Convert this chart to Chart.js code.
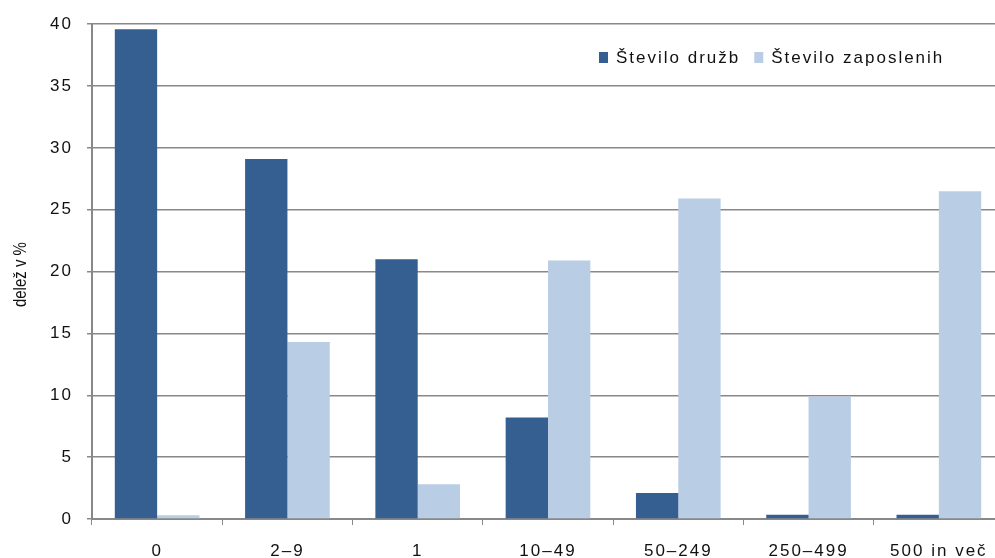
<!DOCTYPE html>
<html>
<head>
<meta charset="utf-8">
<script src="https://cdn.jsdelivr.net/npm/chart.js@4"></script>
<style>
  html, body { margin: 0; padding: 0; background: #fff; overflow: hidden; }
  #wrap { position: absolute; left: 0; top: 0; width: 1010px; height: 590px; }
</style>
</head>
<body>
<div id="wrap"><canvas id="chart"></canvas></div>
<script>
// ── Data ──
const categories = ['0', '2–9', '1', '10–49', '50–249', '250–499', '500 in več'];
const druzbe = [39.6, 29.1, 21.0, 8.2, 2.1, 0.35, 0.35];
const zaposleni = [0.3, 14.3, 2.8, 20.9, 25.9, 9.9, 26.5];
const yTicks = [0, 5, 10, 15, 20, 25, 30, 35, 40];
const yTitle = 'delež v %';

const FONT = '"Liberation Sans", Arial, sans-serif';
const GRID = '#888888';
const TEXT = '#111';

// ── Wide text (the original is stretched sideways) ──
const wideText = {
  id: 'wideText',
  beforeDraw(chart) { chart.ctx.letterSpacing = '2px'; }
};

// ── Legend inside the plot + y title ──
const extras = {
  id: 'extras',
  afterDraw(chart) {
    const ctx = chart.ctx;
    ctx.save();
    ctx.font = '17px ' + FONT;
    ctx.letterSpacing = '2px';
    ctx.textBaseline = 'middle';
    let x = 599;
    const y = 58;
    chart.data.datasets.forEach(ds => {
      ctx.fillStyle = ds.backgroundColor;
      ctx.fillRect(x, y - 6, 9, 11);
      ctx.fillStyle = TEXT;
      ctx.fillText(ds.label, x + 17, y);
      x += 17 + ctx.measureText(ds.label).width + 14;
    });

    // rotated axis title, widened across like the original
    const area = chart.chartArea;
    ctx.letterSpacing = '0px';
    ctx.font = '15px ' + FONT;
    ctx.translate(21, (area.top + area.bottom) / 2 + 3);
    ctx.rotate(-Math.PI / 2);
    ctx.scale(1, 1.2);
    ctx.textAlign = 'center';
    ctx.fillText(yTitle, 0, 0);
    ctx.restore();
  }
};

new Chart(document.getElementById('chart'), {
  type: 'bar',
  data: {
    labels: categories,
    datasets: [
      { label: 'Število družb', data: druzbe, backgroundColor: '#365f91',
        categoryPercentage: 0.65, barPercentage: 1 },
      { label: 'Število zaposlenih', data: zaposleni, backgroundColor: '#b9cde5',
        categoryPercentage: 0.65, barPercentage: 1 }
    ]
  },
  options: {
    responsive: true,
    maintainAspectRatio: false,
    animation: false,
    layout: { padding: { top: 23, right: 6, left: 0, bottom: 0 } },
    plugins: {
      legend: { display: false },
      tooltip: { enabled: false }
    },
    scales: {
      x: {
        grid: { drawOnChartArea: false, drawTicks: true, tickLength: 6, color: GRID, offset: true },
        border: { color: GRID, width: 2 },
        ticks: { color: TEXT, font: { family: FONT, size: 17 }, padding: 16, maxRotation: 0 },
        afterFit(axis) { axis.height = 71; }
      },
      y: {
        min: 0,
        max: 40,
        afterBuildTicks(axis) { axis.ticks = yTicks.map(v => ({ value: v })); },
        grid: { color: GRID, lineWidth: 1.5, tickLength: 5 },
        border: { color: GRID, width: 2 },
        ticks: { color: TEXT, font: { family: FONT, size: 17 }, padding: 14 },
        afterFit(axis) { axis.width = 92; }
      }
    }
  },
  plugins: [wideText, extras]
});
</script>
</body>
</html>
